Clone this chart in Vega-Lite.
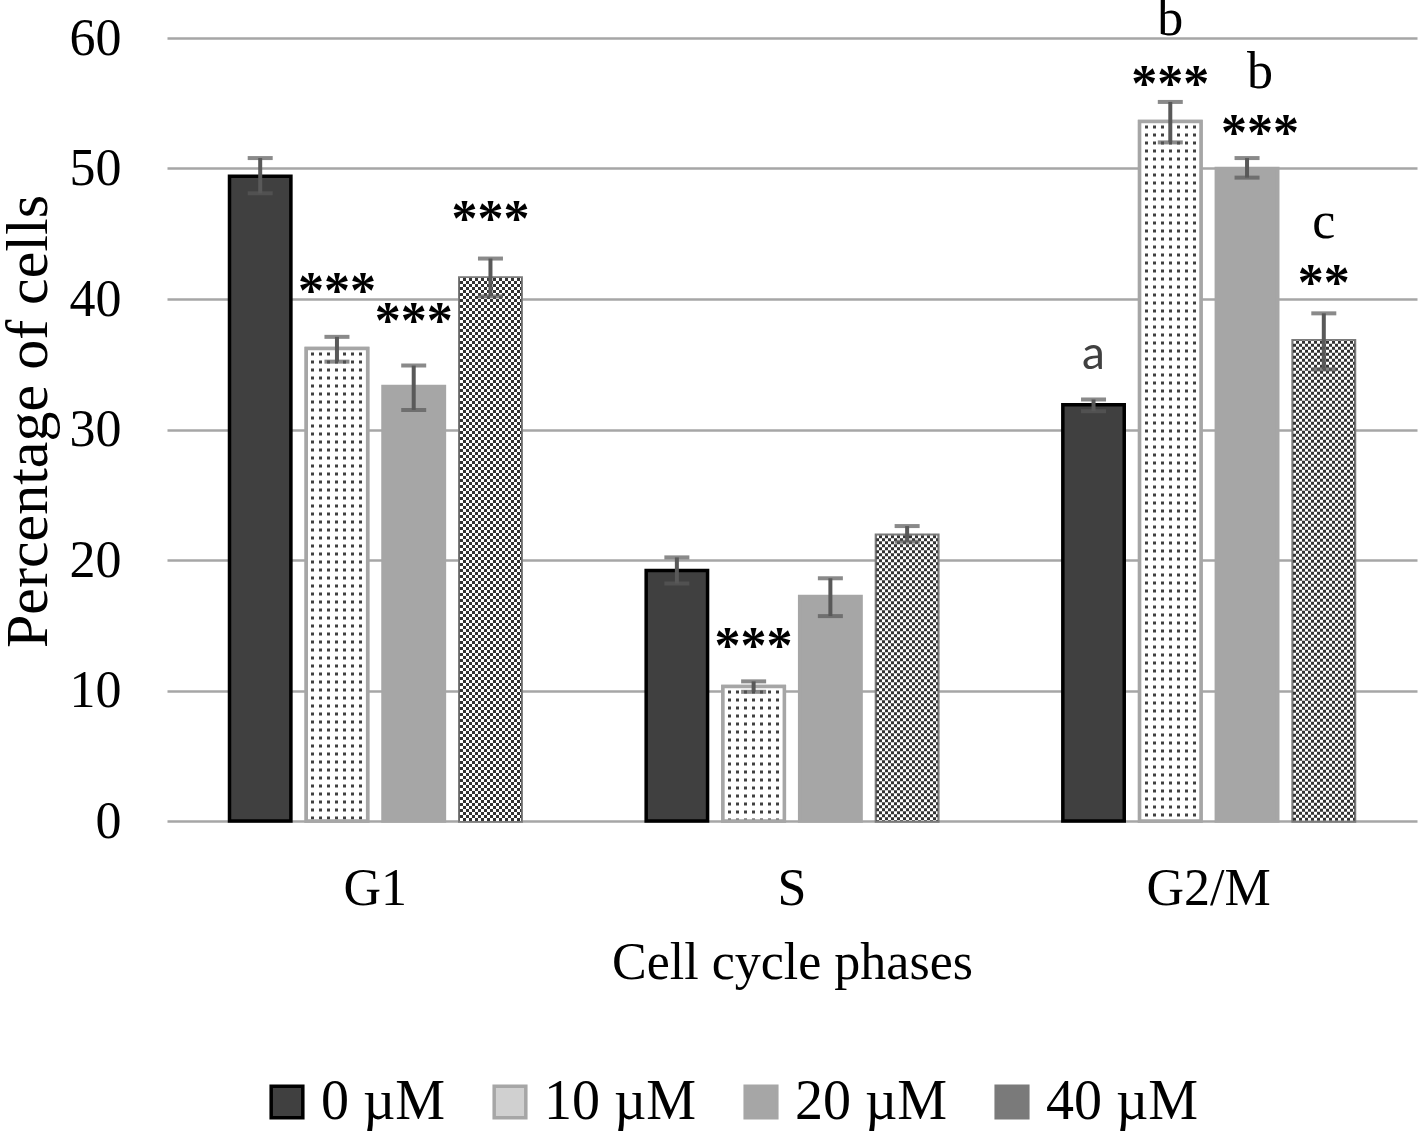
{
  "$schema": "https://vega.github.io/schema/vega-lite/v6.json",
  "width": 1250,
  "height": 783,
  "autosize": {"type": "none"},
  "padding": {"left": 167, "top": 38, "right": 1, "bottom": 314},
  "background": "white",
  "config": {
    "view": {"stroke": null},
    "font": "Liberation Serif",
    "axis": {"labelFont": "Liberation Serif", "titleFont": "Liberation Serif", "labelColor": "black", "titleColor": "black", "titleFontWeight": "normal"},
    "legend": {"labelFont": "Liberation Serif"}
  },
  "datasets": {
    "bars": [
      {"phase": "G1", "dose": "0 µM", "value": 49.4, "lo": 48.1, "hi": 50.8},
      {"phase": "G1", "dose": "10 µM", "value": 36.2, "lo": 35.2, "hi": 37.1},
      {"phase": "G1", "dose": "20 µM", "value": 33.3, "lo": 31.5, "hi": 34.9},
      {"phase": "G1", "dose": "40 µM", "value": 41.6, "lo": 40.2, "hi": 43.1},
      {"phase": "S", "dose": "0 µM", "value": 19.2, "lo": 18.2, "hi": 20.2},
      {"phase": "S", "dose": "10 µM", "value": 10.3, "lo": 9.9, "hi": 10.7},
      {"phase": "S", "dose": "20 µM", "value": 17.2, "lo": 15.7, "hi": 18.6},
      {"phase": "S", "dose": "40 µM", "value": 21.9, "lo": 21.4, "hi": 22.6},
      {"phase": "G2/M", "dose": "0 µM", "value": 31.9, "lo": 31.4, "hi": 32.3},
      {"phase": "G2/M", "dose": "10 µM", "value": 53.6, "lo": 52.0, "hi": 55.1},
      {"phase": "G2/M", "dose": "20 µM", "value": 50.0, "lo": 49.3, "hi": 50.8},
      {"phase": "G2/M", "dose": "40 µM", "value": 36.8, "lo": 34.6, "hi": 38.9}
    ],
    "notes": [
      {"phase": "G1", "dose": "10 µM", "label": "***", "pos": 39.3, "kind": "serif"},
      {"phase": "G1", "dose": "20 µM", "label": "***", "pos": 37.0, "kind": "serif"},
      {"phase": "G1", "dose": "40 µM", "label": "***", "pos": 44.8, "kind": "serif"},
      {"phase": "S", "dose": "10 µM", "label": "***", "pos": 12.1, "kind": "serif"},
      {"phase": "G2/M", "dose": "0 µM", "label": "a", "pos": 34.6, "kind": "sans"},
      {"phase": "G2/M", "dose": "10 µM", "label": "***", "pos": 55.2, "kind": "serif"},
      {"phase": "G2/M", "dose": "10 µM", "label": "b", "pos": 60.2, "kind": "letter"},
      {"phase": "G2/M", "dose": "20 µM", "label": "***", "pos": 51.4, "kind": "shifted"},
      {"phase": "G2/M", "dose": "20 µM", "label": "b", "pos": 56.2, "kind": "shiftedletter"},
      {"phase": "G2/M", "dose": "40 µM", "label": "**", "pos": 39.9, "kind": "serif"},
      {"phase": "G2/M", "dose": "40 µM", "label": "c", "pos": 44.7, "kind": "letter"}
    ]
  },
  "encoding": {
    "x": {
      "field": "phase", "type": "nominal", "sort": ["G1", "S", "G2/M"],
      "scale": {"paddingInner": 0.3, "paddingOuter": 0.15},
      "axis": {"title": "Cell cycle phases", "labelAngle": 0, "labelFontSize": 52, "labelPadding": 42, "domain": false, "ticks": false, "titleFontSize": 52, "titleBaseline": "alphabetic", "titleY": 157}
    },
    "xOffset": {"field": "dose", "type": "nominal", "sort": ["0 µM", "10 µM", "20 µM", "40 µM"], "scale": {"paddingInner": 0.2, "paddingOuter": 0}}
  },
  "layer": [
    {
      "data": {"name": "bars"},
      "mark": {"type": "bar", "strokeWidth": 3.5},
      "encoding": {
        "y": {
          "field": "value", "type": "quantitative",
          "scale": {"domain": [0, 60]},
          "axis": {"title": "Percentage of cells", "values": [0, 10, 20, 30, 40, 50, 60], "labelFontSize": 52, "labelPadding": 46, "domain": false, "ticks": false, "gridColor": "#a6a6a6", "gridWidth": 2.5, "titleFontSize": 60, "titleBaseline": "alphabetic", "titleX": -121, "titleY": 383}
        },
        "fill": {
          "field": "dose", "type": "nominal", "sort": ["0 µM", "10 µM", "20 µM", "40 µM"],
          "scale": {"range": ["#404040", "#d0d0d0", "#a6a6a6", "#7a7a7a"]},
          "legend": {
            "title": null, "orient": "none", "direction": "horizontal", "legendX": 92, "legendY": 1036,
            "labelFontSize": 56, "labelColor": "black", "symbolType": "square", "symbolSize": 1000,
            "symbolStrokeWidth": 3.5, "labelOffset": 6, "columnPadding": 36,
            "encode": {"symbols": {"update": {
              "stroke": {"signal": "datum.value === '0 µM' ? '#000000' : datum.value === '40 µM' ? '#7a7a7a' : '#a6a6a6'"},
              "strokeWidth": {"value": 3.5}
            }}}
          }
        },
        "stroke": {
          "field": "dose", "type": "nominal", "sort": ["0 µM", "10 µM", "20 µM", "40 µM"],
          "scale": {"range": ["#000000", "#a6a6a6", "#a6a6a6", "#7a7a7a"]},
          "legend": null
        }
      }
    },
    {
      "data": {"name": "bars"},
      "transform": [{"filter": "datum.dose === '10 µM'"}],
      "mark": {"type": "bar", "fill": "#ffffff", "strokeWidth": 0},
      "encoding": {"y": {"field": "value", "type": "quantitative"}}
    },
    {
      "data": {"name": "bars"},
      "transform": [{"filter": "datum.dose === '10 µM'"}],
      "mark": {"type": "rule", "color": "#404040", "strokeWidth": 60, "strokeDash": [3, 5], "strokeDashOffset": 4, "strokeCap": "butt"},
      "encoding": {"y": {"field": "value", "type": "quantitative"}, "y2": {"datum": 0}}
    },
    {
      "data": {"name": "bars"},
      "transform": [{"filter": "datum.dose === '10 µM'"}],
      "mark": {
        "type": "bar", "stroke": "#a6a6a6", "strokeWidth": 3.5,
        "fill": {"gradient": "linear", "x1": 0, "y1": 0, "x2": 1, "y2": 0, "stops": [
          {"offset": 0, "color": "#ffffff"}, {"offset": 0.085, "color": "#ffffff"},
          {"offset": 0.085, "color": "rgba(255,255,255,0)"}, {"offset": 0.134, "color": "rgba(255,255,255,0)"},
          {"offset": 0.134, "color": "#ffffff"}, {"offset": 0.215, "color": "#ffffff"},
          {"offset": 0.215, "color": "rgba(255,255,255,0)"}, {"offset": 0.264, "color": "rgba(255,255,255,0)"},
          {"offset": 0.264, "color": "#ffffff"}, {"offset": 0.345, "color": "#ffffff"},
          {"offset": 0.345, "color": "rgba(255,255,255,0)"}, {"offset": 0.394, "color": "rgba(255,255,255,0)"},
          {"offset": 0.394, "color": "#ffffff"}, {"offset": 0.476, "color": "#ffffff"},
          {"offset": 0.476, "color": "rgba(255,255,255,0)"}, {"offset": 0.524, "color": "rgba(255,255,255,0)"},
          {"offset": 0.524, "color": "#ffffff"}, {"offset": 0.606, "color": "#ffffff"},
          {"offset": 0.606, "color": "rgba(255,255,255,0)"}, {"offset": 0.655, "color": "rgba(255,255,255,0)"},
          {"offset": 0.655, "color": "#ffffff"}, {"offset": 0.736, "color": "#ffffff"},
          {"offset": 0.736, "color": "rgba(255,255,255,0)"}, {"offset": 0.785, "color": "rgba(255,255,255,0)"},
          {"offset": 0.785, "color": "#ffffff"}, {"offset": 0.866, "color": "#ffffff"},
          {"offset": 0.866, "color": "rgba(255,255,255,0)"}, {"offset": 0.915, "color": "rgba(255,255,255,0)"},
          {"offset": 0.915, "color": "#ffffff"}, {"offset": 1, "color": "#ffffff"}
        ]}
      },
      "encoding": {"y": {"field": "value", "type": "quantitative"}}
    },
    {
      "data": {"name": "bars"},
      "transform": [{"filter": "datum.dose === '40 µM'"}],
      "mark": {
        "type": "bar", "strokeWidth": 0,
        "fill": {"gradient": "linear", "x1": 0, "y1": 0, "x2": 1, "y2": 0, "stops": [
          {"offset": 0, "color": "#000000"}, {"offset": 0.0489, "color": "#000000"},
          {"offset": 0.0489, "color": "#ffffff"}, {"offset": 0.0977, "color": "#ffffff"},
          {"offset": 0.0977, "color": "#000000"}, {"offset": 0.1466, "color": "#000000"},
          {"offset": 0.1466, "color": "#ffffff"}, {"offset": 0.1954, "color": "#ffffff"},
          {"offset": 0.1954, "color": "#000000"}, {"offset": 0.2443, "color": "#000000"},
          {"offset": 0.2443, "color": "#ffffff"}, {"offset": 0.2932, "color": "#ffffff"},
          {"offset": 0.2932, "color": "#000000"}, {"offset": 0.3420, "color": "#000000"},
          {"offset": 0.3420, "color": "#ffffff"}, {"offset": 0.3909, "color": "#ffffff"},
          {"offset": 0.3909, "color": "#000000"}, {"offset": 0.4397, "color": "#000000"},
          {"offset": 0.4397, "color": "#ffffff"}, {"offset": 0.4886, "color": "#ffffff"},
          {"offset": 0.4886, "color": "#000000"}, {"offset": 0.5375, "color": "#000000"},
          {"offset": 0.5375, "color": "#ffffff"}, {"offset": 0.5863, "color": "#ffffff"},
          {"offset": 0.5863, "color": "#000000"}, {"offset": 0.6352, "color": "#000000"},
          {"offset": 0.6352, "color": "#ffffff"}, {"offset": 0.6840, "color": "#ffffff"},
          {"offset": 0.6840, "color": "#000000"}, {"offset": 0.7329, "color": "#000000"},
          {"offset": 0.7329, "color": "#ffffff"}, {"offset": 0.7818, "color": "#ffffff"},
          {"offset": 0.7818, "color": "#000000"}, {"offset": 0.8306, "color": "#000000"},
          {"offset": 0.8306, "color": "#ffffff"}, {"offset": 0.8795, "color": "#ffffff"},
          {"offset": 0.8795, "color": "#000000"}, {"offset": 0.9283, "color": "#000000"},
          {"offset": 0.9283, "color": "#ffffff"}, {"offset": 0.9772, "color": "#ffffff"},
          {"offset": 0.9772, "color": "#000000"}, {"offset": 1, "color": "#000000"}
        ]}
      },
      "encoding": {"y": {"field": "value", "type": "quantitative"}}
    },
    {
      "data": {"name": "bars"},
      "transform": [{"filter": "datum.dose === '40 µM'"}],
      "mark": {"type": "rule", "color": "#ffffff", "strokeWidth": 61, "strokeDash": [3, 3], "strokeCap": "butt", "blend": "difference"},
      "encoding": {"y": {"field": "value", "type": "quantitative"}, "y2": {"datum": 0}}
    },
    {
      "data": {"name": "bars"},
      "transform": [{"filter": "datum.dose === '40 µM'"}],
      "mark": {"type": "bar", "fill": "#ffffff", "fillOpacity": 0.2, "strokeWidth": 0},
      "encoding": {"y": {"field": "value", "type": "quantitative"}}
    },
    {
      "data": {"name": "bars"},
      "mark": {"type": "rule", "color": "#595959", "strokeWidth": 4},
      "encoding": {"y": {"field": "lo", "type": "quantitative"}, "y2": {"field": "hi"}}
    },
    {
      "data": {"name": "bars"},
      "mark": {"type": "tick", "color": "#595959", "thickness": 4, "size": 25, "orient": "horizontal"},
      "encoding": {"y": {"field": "lo", "type": "quantitative"}}
    },
    {
      "data": {"name": "bars"},
      "mark": {"type": "tick", "color": "#595959", "thickness": 4, "size": 25, "orient": "horizontal"},
      "encoding": {"y": {"field": "hi", "type": "quantitative"}}
    },
    {
      "data": {"name": "notes"},
      "transform": [{"filter": "datum.kind === 'serif'"}],
      "mark": {"type": "text", "font": "Liberation Serif", "fontSize": 52, "fontWeight": "bold", "color": "black", "baseline": "alphabetic", "align": "center"},
      "encoding": {"y": {"field": "pos", "type": "quantitative"}, "text": {"field": "label"}}
    },
    {
      "data": {"name": "notes"},
      "transform": [{"filter": "datum.kind === 'letter'"}],
      "mark": {"type": "text", "font": "Liberation Serif", "fontSize": 52, "color": "black", "baseline": "alphabetic", "align": "center"},
      "encoding": {"y": {"field": "pos", "type": "quantitative"}, "text": {"field": "label"}}
    },
    {
      "data": {"name": "notes"},
      "transform": [{"filter": "datum.kind === 'shifted'"}],
      "mark": {"type": "text", "font": "Liberation Serif", "fontSize": 52, "fontWeight": "bold", "color": "black", "baseline": "alphabetic", "align": "center", "dx": 13},
      "encoding": {"y": {"field": "pos", "type": "quantitative"}, "text": {"field": "label"}}
    },
    {
      "data": {"name": "notes"},
      "transform": [{"filter": "datum.kind === 'shiftedletter'"}],
      "mark": {"type": "text", "font": "Liberation Serif", "fontSize": 52, "color": "black", "baseline": "alphabetic", "align": "center", "dx": 13},
      "encoding": {"y": {"field": "pos", "type": "quantitative"}, "text": {"field": "label"}}
    },
    {
      "data": {"name": "notes"},
      "transform": [{"filter": "datum.kind === 'sans'"}],
      "mark": {"type": "text", "font": "Lato", "fontSize": 46, "color": "#404040", "baseline": "alphabetic", "align": "center"},
      "encoding": {"y": {"field": "pos", "type": "quantitative"}, "text": {"field": "label"}}
    }
  ]
}
